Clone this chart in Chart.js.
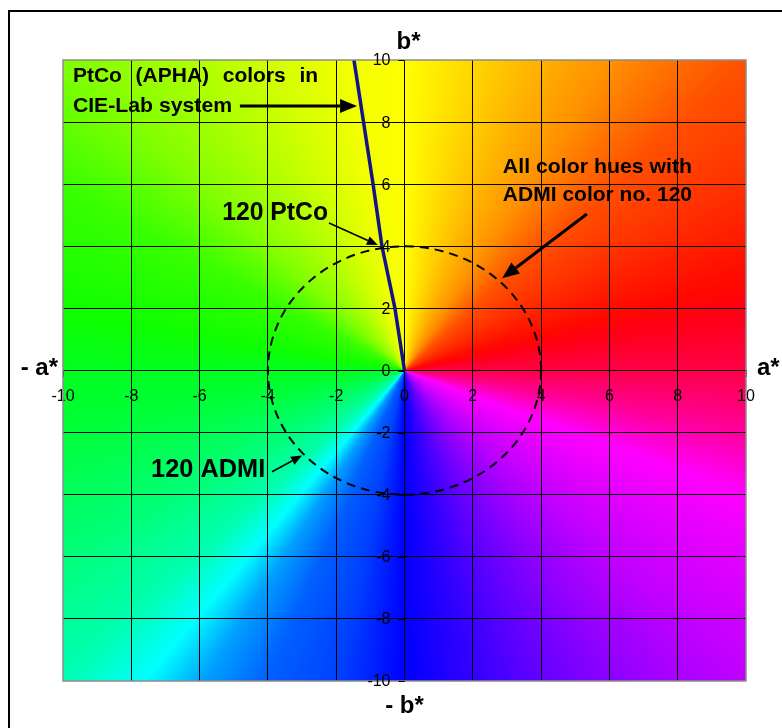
<!DOCTYPE html>
<html>
<head>
<meta charset="utf-8">
<script src="https://cdn.jsdelivr.net/npm/chart.js@4.4.0/dist/chart.umd.min.js"></script>
<style>
  html, body { margin: 0; padding: 0; background: #fff; overflow: hidden; }
  #wrap { width: 782px; height: 728px; }
</style>
</head>
<body>
<div id="wrap"><canvas id="labChart" width="782" height="728"></canvas></div>
<script>
// dados do gráfico
const axisTicks = [-10, -8, -6, -4, -2, 0, 2, 4, 6, 8, 10];
const ptcoA = [0, -0.28, -0.66, -0.92, -1.2, -1.48];
const ptcoB = [0, 2, 4, 6, 8, 10];
const admiRadius = 4;

// cores do círculo de matiz (ângulo do canvas, sentido horário a partir da direita)
const hueStops = [
  [0, '#ff0048'], [10, '#ff0098'], [20, '#ff00ff'], [42, '#c000ff'], [55, '#9000ff'],
  [65, '#6800ff'], [78, '#3000ff'], [90, '#0000ff'], [102, '#0040ff'], [114, '#0060ff'],
  [123, '#00a0ff'], [130, '#00ffff'], [138, '#00ffb0'], [151, '#00ff78'], [170, '#00ff38'],
  [180, '#00ff20'], [190, '#10ff00'], [208, '#38ff00'], [222, '#80ff00'], [236, '#b0ff00'],
  [246, '#d0ff00'], [258, '#f0ff00'], [270, '#ffff00'], [282, '#ffd800'], [294, '#ffb000'],
  [304, '#ff9000'], [318, '#ff5000'], [331, '#ff3000'], [345, '#ff0800'], [350, '#ff0014'],
  [360, '#ff0048']
];

// textos e setas (coordenadas em a*, b*)
const notes = [
  { text: 'PtCo (APHA) colors in', a1: -9.71, a2: -2.53, b: 9.48, size: 21, justify: true },
  { text: 'CIE-Lab system', a1: -9.71, a2: -5.05, b: 8.52, size: 21 },
  { text: '120 PtCo', a1: -5.34, a2: -2.24, b: 5.07, size: 25 },
  { text: 'All color hues with', a1: 2.88, a2: 8.42, b: 6.55, size: 21 },
  { text: 'ADMI color no. 120', a1: 2.88, a2: 8.42, b: 5.64, size: 21 },
  { text: '120 ADMI', a1: -7.42, a2: -4.08, b: -3.2, size: 25 }
];
const arrows = [
  { from: [-4.82, 8.52], to: [-1.39, 8.52], lw: 3, head: 17, hw: 14 },
  { from: [-2.21, 4.75], to: [-0.78, 4.04], lw: 1.5, head: 11, hw: 9 },
  { from: [5.34, 5.04], to: [2.86, 2.97], lw: 3, head: 17, hw: 14 },
  { from: [-3.88, -3.26], to: [-3.0, -2.74], lw: 1.5, head: 11, hw: 9 }
];

const FONT = '"Liberation Sans", Arial, sans-serif';

function drawFit(ctx, text, x1, x2, y, size, justify) {
  ctx.font = 'bold ' + size + 'px ' + FONT;
  ctx.textBaseline = 'middle';
  ctx.textAlign = 'left';
  ctx.fillStyle = '#000';
  const target = x2 - x1;
  if (justify) {
    const words = text.split(' ');
    const total = words.reduce((s, w) => s + ctx.measureText(w).width, 0);
    const gap = (target - total) / (words.length - 1);
    let x = x1;
    words.forEach(w => {
      ctx.fillText(w, x, y);
      x += ctx.measureText(w).width + gap;
    });
  } else {
    const w = ctx.measureText(text).width;
    ctx.save();
    ctx.translate(x1, y);
    ctx.scale(target / w, 1);
    ctx.fillText(text, 0, 0);
    ctx.restore();
  }
}

function drawArrow(ctx, x1, y1, x2, y2, lw, head, hw) {
  const ang = Math.atan2(y2 - y1, x2 - x1);
  const bx = x2 - head * Math.cos(ang), by = y2 - head * Math.sin(ang);
  ctx.strokeStyle = '#000';
  ctx.fillStyle = '#000';
  ctx.lineWidth = lw;
  ctx.beginPath();
  ctx.moveTo(x1, y1);
  ctx.lineTo(bx, by);
  ctx.stroke();
  ctx.beginPath();
  ctx.moveTo(x2, y2);
  ctx.lineTo(bx + hw / 2 * Math.sin(ang), by - hw / 2 * Math.cos(ang));
  ctx.lineTo(bx - hw / 2 * Math.sin(ang), by + hw / 2 * Math.cos(ang));
  ctx.closePath();
  ctx.fill();
}

// fundo com o gradiente cônico
const huePlugin = {
  id: 'hueBackground',
  beforeDraw(chart) {
    const { ctx, chartArea: area, scales } = chart;
    ctx.save();
    ctx.fillStyle = '#fff';
    ctx.fillRect(0, 0, chart.width, chart.height);
    const cx = scales.x.getPixelForValue(0), cy = scales.y.getPixelForValue(0);
    const g = ctx.createConicGradient(0, cx, cy);
    hueStops.forEach(s => g.addColorStop(s[0] / 360, s[1]));
    ctx.fillStyle = g;
    ctx.fillRect(area.left, area.top, area.right - area.left, area.bottom - area.top);
    ctx.restore();
  }
};

// círculo, rótulos do eixo b*, textos, setas e títulos dos eixos
const overlayPlugin = {
  id: 'overlay',
  afterDraw(chart) {
    const { ctx, chartArea: area, scales } = chart;
    const px = v => scales.x.getPixelForValue(v);
    const py = v => scales.y.getPixelForValue(v);
    ctx.save();

    // moldura cinza da área do gráfico
    ctx.strokeStyle = '#8c8c8c';
    ctx.lineWidth = 1.5;
    ctx.strokeRect(area.left, area.top, area.right - area.left, area.bottom - area.top);

    // marcas e rótulos do eixo vertical (à esquerda da linha a* = 0)
    const x0 = px(0);
    ctx.strokeStyle = '#000';
    ctx.lineWidth = 1;
    ctx.fillStyle = '#000';
    ctx.font = '16px ' + FONT;
    ctx.textAlign = 'right';
    ctx.textBaseline = 'middle';
    scales.y.ticks.forEach(t => {
      const y = Math.round(py(t.value)) + 0.5;
      ctx.beginPath();
      ctx.moveTo(x0 - 6, y);
      ctx.lineTo(x0, y);
      ctx.stroke();
      ctx.fillText(String(t.value), x0 - 14, py(t.value) + 1);
    });

    // círculo ADMI tracejado
    ctx.lineWidth = 2;
    ctx.setLineDash([9, 6]);
    ctx.beginPath();
    ctx.ellipse(px(0), py(0), px(admiRadius) - px(0), py(0) - py(admiRadius), 0, 0, Math.PI * 2);
    ctx.stroke();
    ctx.setLineDash([]);

    notes.forEach(n => drawFit(ctx, n.text, px(n.a1), px(n.a2), py(n.b), n.size, n.justify));
    arrows.forEach(a => drawArrow(ctx, px(a.from[0]), py(a.from[1]), px(a.to[0]), py(a.to[1]), a.lw, a.head, a.hw));

    // títulos dos eixos
    ctx.font = 'bold 24px ' + FONT;
    ctx.fillStyle = '#000';
    ctx.textBaseline = 'middle';
    ctx.textAlign = 'center';
    ctx.fillText('b*', px(0) + 4, area.top - 18);
    ctx.fillText('- b*', px(0), area.bottom + 25);
    ctx.textAlign = 'right';
    ctx.fillText('- a*', area.left - 5, py(0) - 2);
    ctx.textAlign = 'left';
    ctx.fillText('a*', area.right + 11, py(0) - 2);

    // moldura externa
    ctx.strokeStyle = '#000';
    ctx.lineWidth = 2;
    ctx.strokeRect(9, 11, 1000, 1000);
    ctx.restore();
  }
};

const gridColor = c => (c.tick && Math.abs(c.tick.value) === 10) ? 'rgba(0,0,0,0)' : '#000';

const ctx = document.getElementById('labChart').getContext('2d');
new Chart(ctx, {
  type: 'scatter',
  data: {
    datasets: [{
      label: 'PtCo',
      data: ptcoA.map((a, i) => ({ x: a, y: ptcoB[i] })),
      showLine: true,
      borderColor: '#14148a',
      borderWidth: 3.5,
      pointRadius: 0,
      tension: 0
    }]
  },
  options: {
    responsive: false,
    animation: false,
    layout: { padding: { left: 63, top: 60, right: 36, bottom: 47 } },
    plugins: { legend: { display: false }, tooltip: { enabled: false } },
    scales: {
      x: {
        type: 'linear', min: -10, max: 10,
        position: { y: 0 },
        afterBuildTicks: s => { s.ticks = axisTicks.map(v => ({ value: v })); },
        ticks: { color: '#000', font: { family: FONT, size: 16 }, padding: 10, maxRotation: 0, autoSkip: false },
        grid: { color: gridColor, tickColor: '#000', tickLength: 6, lineWidth: 1 },
        border: { display: true, color: '#000', width: 1 }
      },
      y: {
        type: 'linear', min: -10, max: 10,
        position: { x: 0 },
        afterBuildTicks: s => { s.ticks = axisTicks.map(v => ({ value: v })); },
        ticks: { display: false },
        grid: { color: gridColor, drawTicks: false, lineWidth: 1 },
        border: { display: true, color: '#000', width: 1 }
      }
    }
  },
  plugins: [huePlugin, overlayPlugin]
});
</script>
</body>
</html>
